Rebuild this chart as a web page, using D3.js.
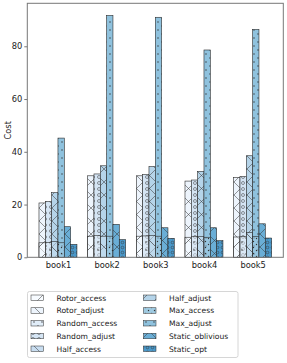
<!DOCTYPE html>
<html><head><meta charset="utf-8">
<script src="https://cdn.jsdelivr.net/npm/d3@7/dist/d3.min.js"></script>
<style>body{margin:0;background:#fff}svg{display:block}</style>
</head><body>
<script>
const categories = ["book1","book2","book3","book4","book5"];
const seriesNames = ["Rotor_access","Rotor_adjust","Random_access","Random_adjust","Half_access","Half_adjust","Max_access","Max_adjust","Static_oblivious","Static_opt"];
const Rotor_access = [5.5, 8.0, 8.0, 7.6, 7.7];
const Rotor_adjust = [20.6, 30.9, 30.9, 28.9, 30.3];
const Random_access = [5.6, 8.2, 8.1, 7.8, 7.8];
const Random_adjust = [21.2, 31.6, 31.4, 29.3, 30.6];
const Half_access = [6.0, 8.0, 8.2, 7.9, 9.4];
const Half_adjust = [24.5, 34.7, 34.4, 32.6, 38.5];
const Max_access = [5.5, 8.0, 8.0, 7.6, 7.8];
const Max_adjust = [45.2, 91.7, 91.0, 78.6, 86.4];
const Static_oblivious = [11.6, 12.5, 11.2, 11.2, 12.7];
const Static_opt = [4.9, 6.7, 7.2, 6.3, 7.3];
const yTicks = [0, 20, 40, 60, 80];

const colors = ["#f7fbff","#edf4fc","#e1edf8","#d5e5f4","#c8ddf0","#b5d4e9","#9fcae1","#8fc2de","#6aaed6","#4a98c9"];
const hatches = ["fwd","back","dots","circ","back","fwd","dots2","dots","cross","circ2"];
const values = [Rotor_access,Rotor_adjust,Random_access,Random_adjust,Half_access,Half_adjust,Max_access,Max_adjust,Static_oblivious,Static_opt];
const slots = [0,0,1,1,2,2,3,3,4,5];

const W=287,H=363;
const svg=d3.select("body").append("svg").attr("width",W).attr("height",H);
const defs=svg.append("defs");
function pat(id,size,draw){
  const p=defs.append("pattern").attr("id",id).attr("patternUnits","userSpaceOnUse").attr("width",size).attr("height",size);
  draw(p);
}
const hc="#333", hw=0.5;
pat("fwd",13,p=>{p.append("path").attr("d","M-1,14L14,-1M-1,1L1,-1M12,14L14,12").attr("stroke",hc).attr("stroke-width",hw);});
pat("back",13,p=>{p.append("path").attr("d","M-1,-1L14,14M12,-1L14,1M-1,12L1,14").attr("stroke",hc).attr("stroke-width",hw);});
pat("cross",13,p=>{p.append("path").attr("d","M-1,14L14,-1M-1,-1L14,14").attr("stroke",hc).attr("stroke-width",hw);});
pat("chev",13,p=>{p.append("path").attr("d","M-1,14L14,-1M-1,-1L14,14").attr("stroke",hc).attr("stroke-width",hw);});
pat("dots",8,p=>{p.append("circle").attr("cx",2).attr("cy",2).attr("r",0.7).attr("fill",hc);p.append("circle").attr("cx",6).attr("cy",6).attr("r",0.7).attr("fill",hc);});
pat("dots2",6,p=>{p.append("circle").attr("cx",1.5).attr("cy",1.5).attr("r",0.7).attr("fill",hc);p.append("circle").attr("cx",4.5).attr("cy",4.5).attr("r",0.7).attr("fill",hc);});
pat("circ",6,p=>{p.append("circle").attr("cx",3).attr("cy",3).attr("r",1.5).attr("fill","none").attr("stroke",hc).attr("stroke-width",hw);});
pat("circ2",5,p=>{p.append("circle").attr("cx",2.5).attr("cy",2.5).attr("r",1.3).attr("fill","none").attr("stroke",hc).attr("stroke-width",hw);});

const m={l:27.3,r:283.3,t:3.3,b:257.3};
const bw=0.13;
const x=d3.scaleLinear().domain([-0.63,4.63]).range([m.l,m.r]);
const y=d3.scaleLinear().domain([0,96.3]).range([m.b,m.t]);

const g=svg.append("g");
const order=[1,0,3,2,5,4,7,6,8,9];
order.forEach(si=>{
  const slot=slots[si];
  const short = (si<8 && si%2===0);
  const grp=g.append("g");
  categories.forEach((c,ci)=>{
    const x0=x(ci-0.39+slot*bw), x1=x(ci-0.39+(slot+1)*bw);
    const v=values[si][ci];
    const ry=y(v), rh=y(0)-y(v);
    grp.append("rect").attr("x",x0).attr("y",ry).attr("width",x1-x0).attr("height",rh)
      .attr("fill",colors[si]).attr("fill-opacity",short?0.5:1);
    let hp=hatches[si];
    if(!short && (si===1||si===5)) hp="chev";
    grp.append("rect").attr("x",x0).attr("y",ry).attr("width",x1-x0).attr("height",rh)
      .attr("fill",`url(#${hp})`).attr("stroke","#2a2a2a").attr("stroke-width",0.6);
  });
});

svg.append("rect").attr("x",m.l).attr("y",m.t).attr("width",m.r-m.l).attr("height",m.b-m.t)
  .attr("fill","none").attr("stroke","#777").attr("stroke-width",1);
const ya=svg.append("g").attr("transform",`translate(${m.l},0)`)
  .call(d3.axisLeft(y).tickValues(yTicks).tickSize(3).tickPadding(2));
ya.select(".domain").remove();
ya.selectAll("line").attr("stroke","#777");
ya.selectAll("text").attr("font-family","DejaVu Sans").attr("font-size",8.3).attr("fill","#222");
const xa=svg.append("g").attr("transform",`translate(0,${m.b})`)
  .call(d3.axisBottom(x).tickValues(d3.range(categories.length)).tickFormat(i=>categories[i]).tickSize(0).tickPadding(5));
xa.select(".domain").remove();
xa.selectAll("text").attr("font-family","DejaVu Sans").attr("font-size",8.3).attr("fill","#222");
svg.append("text").attr("transform",`translate(11,${(m.t+m.b)/2}) rotate(-90)`).attr("text-anchor","middle")
  .attr("font-family","DejaVu Sans").attr("font-size",8.3).attr("fill","#222").text("Cost");

const lg=svg.append("g");
lg.append("rect").attr("x",27.5).attr("y",291.5).attr("width",210.5).attr("height",66).attr("rx",2)
  .attr("fill","#fff").attr("stroke","#ccc").attr("stroke-width",0.8);
seriesNames.forEach((n,i)=>{
  const col=Math.floor(i/5), row=i%5;
  const px=col===0?31:143.5, ty=298+row*12.75;
  lg.append("rect").attr("x",px).attr("y",ty-3).attr("width",12.5).attr("height",5.5).attr("fill",colors[i]);
  lg.append("rect").attr("x",px).attr("y",ty-3).attr("width",12.5).attr("height",5.5).attr("fill",`url(#${hatches[i]})`)
    .attr("stroke","#2a2a2a").attr("stroke-width",0.5);
  lg.append("text").attr("x",px+25.5).attr("y",ty).attr("dy","0.35em").attr("font-family","DejaVu Sans")
    .attr("font-size",7.6).attr("fill","#222").text(n);
});
</script>
</body></html>
